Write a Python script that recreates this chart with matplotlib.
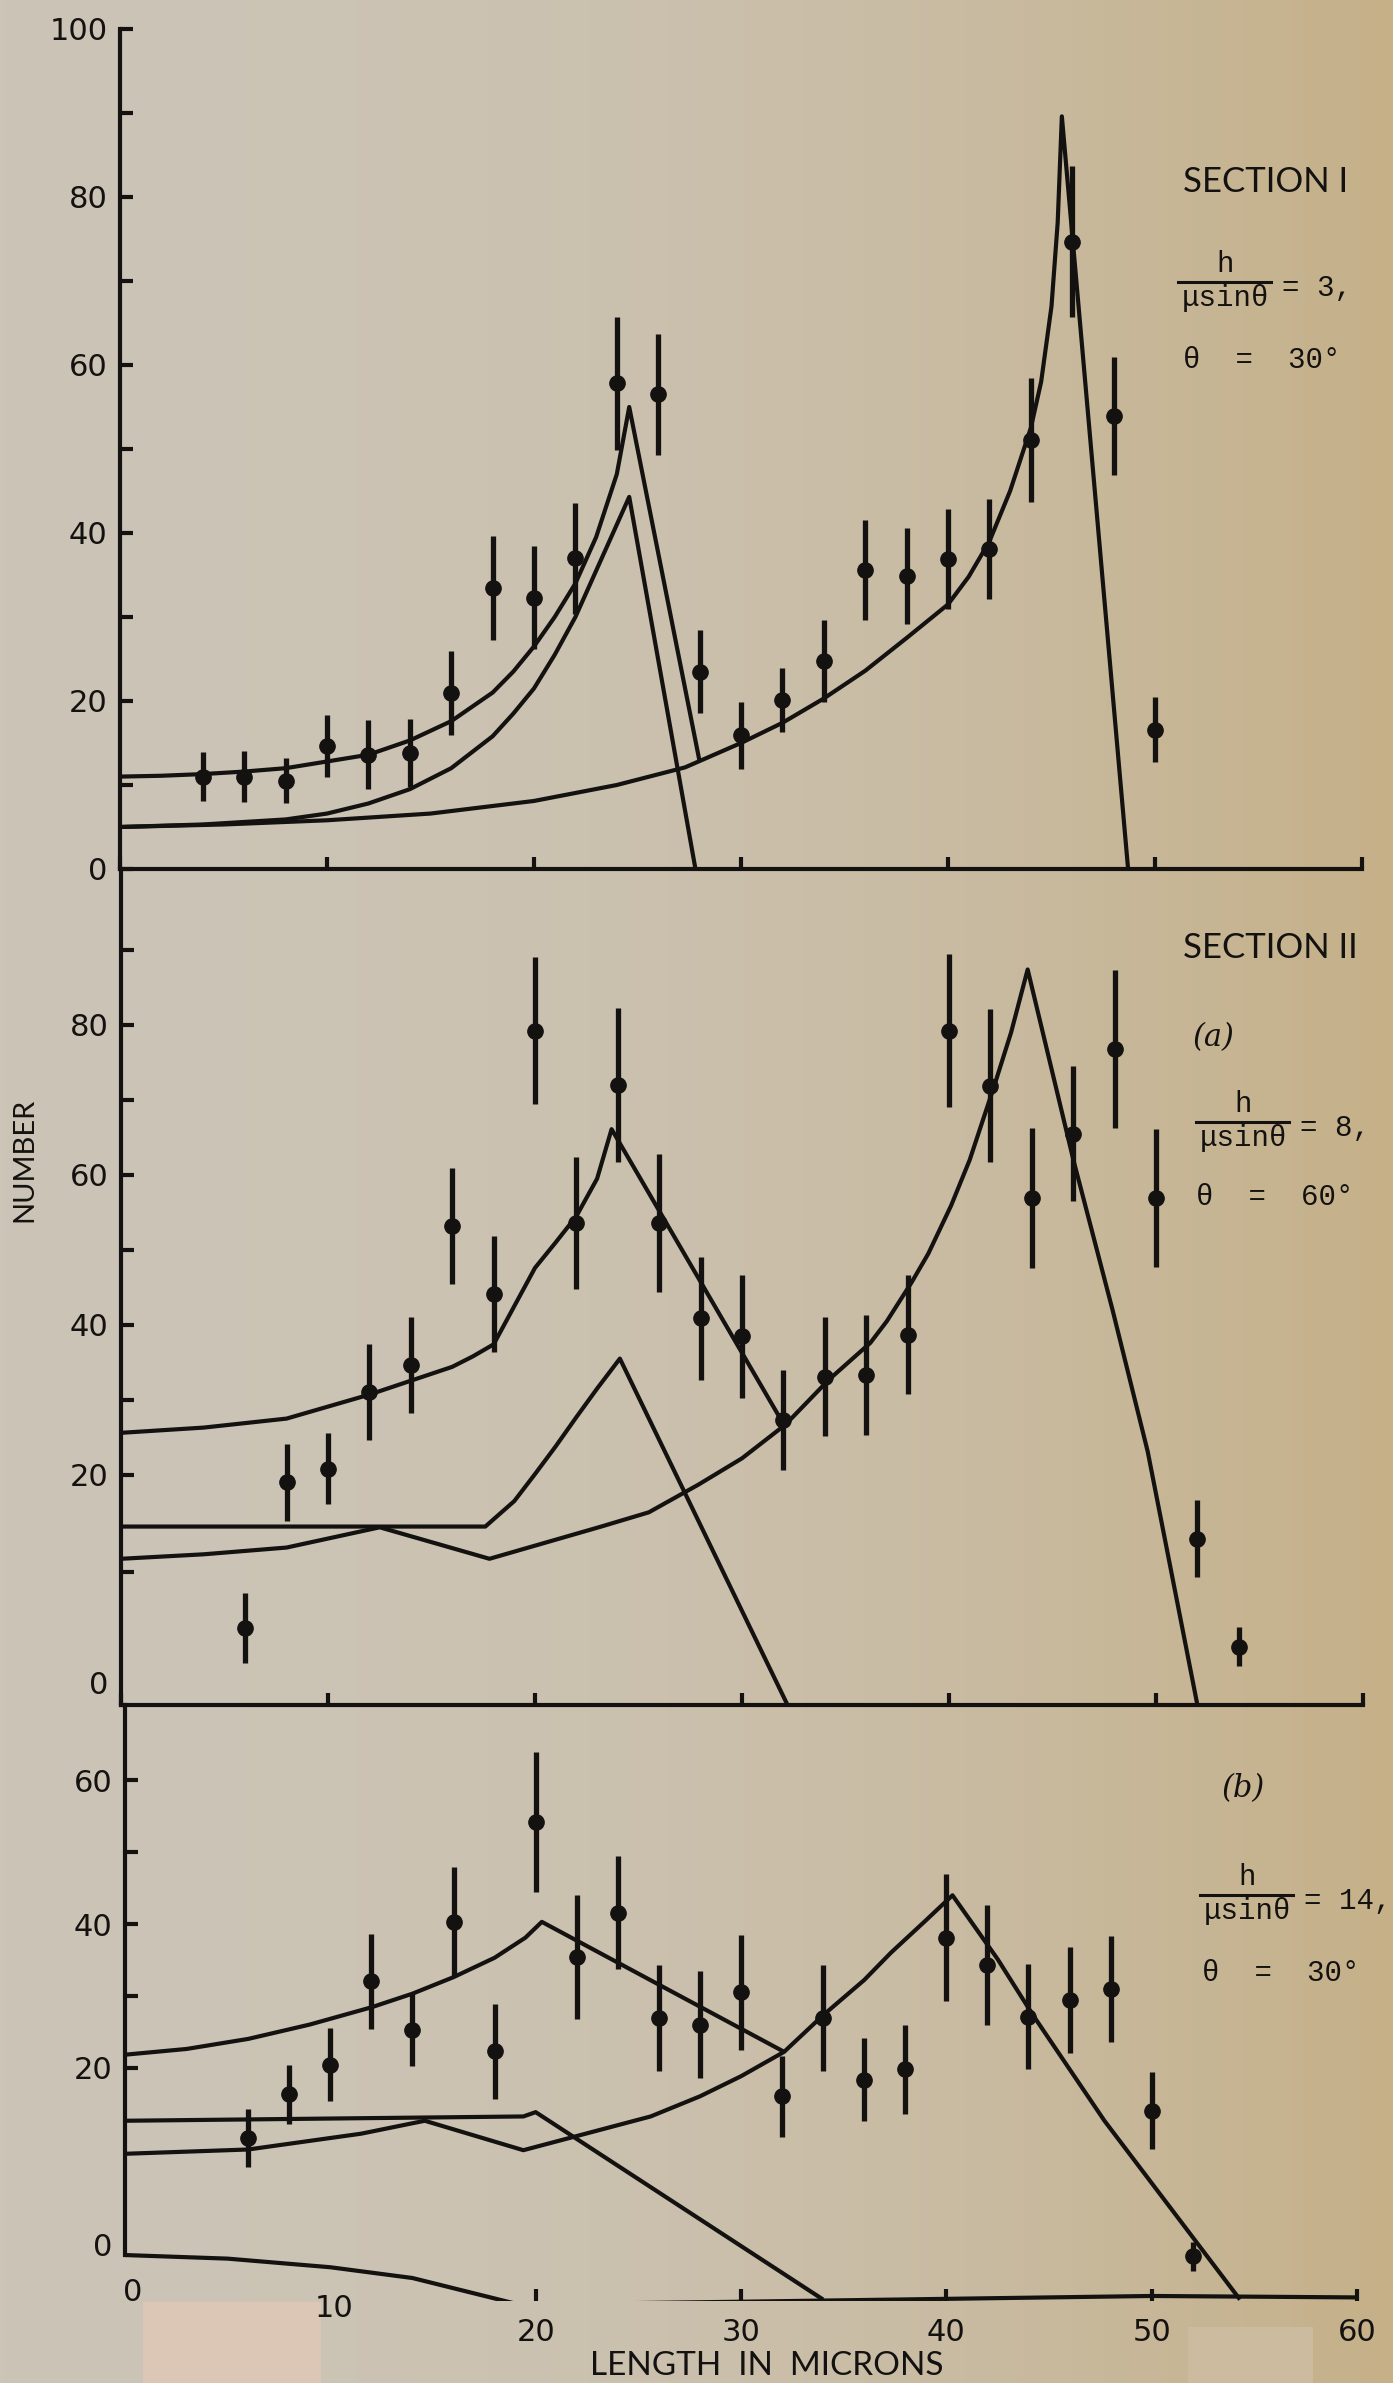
import numpy as np
import matplotlib.pyplot as plt
from matplotlib import transforms
from matplotlib.patches import Rectangle
from matplotlib.lines import Line2D

W, H = 1393, 2383
INK = '#141210'

plt.rcParams['font.family'] = ['DejaVu Sans']

# ---- Section I : h/(mu sin theta) = 3, theta = 30 deg
x1 = [4, 6, 8, 10, 12, 14, 16, 18, 20, 22, 24, 26, 28, 30, 32, 34, 36, 38, 40, 42, 44, 46, 48, 50]
y1 = [11, 11, 10.5, 14.6, 13.6, 13.8, 20.9, 33.5, 32.3, 37, 57.8, 56.5, 23.5, 15.9, 20.1, 24.8,
      35.6, 34.9, 36.9, 38.1, 51.1, 74.7, 53.9, 16.6]
e1 = [2.9, 3, 2.7, 3.7, 4.1, 4, 5, 6.2, 6.1, 6.6, 7.9, 7.2, 4.9, 4, 3.8, 4.9,
      6, 5.7, 5.9, 6, 7.4, 9, 7, 3.9]
a1_x = [0, 2, 4, 6, 8, 10, 12, 14, 16, 18, 19, 20, 21, 22, 23, 24, 24.6, 28]
a1_y = [11, 11.1, 11.3, 11.6, 12, 12.8, 13.6, 15.3, 17.6, 21, 23.5, 26.5, 30, 34, 39.5, 47, 55, 12.8]
b1_x = [0, 4, 8, 10, 12, 14, 16, 18, 19, 20, 21, 22, 23, 24, 24.6, 27.8]
b1_y = [5, 5.3, 5.9, 6.6, 7.8, 9.5, 12, 15.8, 18.5, 21.5, 25.5, 30, 35.5, 41, 44.3, 0]
c1_x = [0, 5, 10, 15, 20, 24, 27.3, 30, 32, 34, 36, 38, 40, 41, 42, 43, 44, 44.5, 45, 45.3,
        45.5, 48.7]
c1_y = [5, 5.3, 5.8, 6.6, 8.1, 10, 12.1, 15, 17.4, 20.3, 23.6, 27.5, 31.5, 34.8, 39, 45, 52.5,
        58, 67, 77, 89.6, 0]

# ---- Section II (a) : h/(mu sin theta) = 8, theta = 60 deg
x2 = [6, 8, 10, 12, 14, 16, 18, 20, 22, 24, 26, 28, 30, 32, 34, 36, 38, 40, 42, 44, 46, 48, 50, 52, 54]
y2 = [-0.4, 19, 20.8, 31, 34.7, 53.2, 44.1, 79.2, 53.6, 72, 53.6, 40.9, 38.5, 27.3, 33.1, 33.3,
      38.7, 79.2, 71.9, 56.9, 65.5, 76.8, 56.9, 11.5, -2.9]
e2 = [4.7, 5.1, 4.75, 6.4, 6.4, 7.7, 7.7, 9.8, 8.8, 10.3, 9.2, 8.2, 8.2, 6.7, 7.9, 8,
      7.9, 10.2, 10.2, 9.3, 9, 10.5, 9.2, 5.1, 2.6]
a2_x = [0, 4, 8, 12, 16, 17, 18, 19, 20, 21, 22, 23, 23.7, 32]
a2_y = [25.6, 26.3, 27.5, 30.7, 34.4, 35.8, 37.4, 42.5, 47.6, 51, 54.5, 59.5, 66.1, 26.8]
b2_x = [0, 17.6, 19, 20, 21, 22, 23, 24.1, 32.2]
b2_y = [13.1, 13.1, 16.5, 20.1, 23.8, 27.7, 31.5, 35.5, -10.7]
c2_x = [0, 4, 8, 12.5, 17.8, 23.2, 25.5, 27.9, 30, 32.1, 34.2, 36.2, 37, 38.2, 39, 40.1, 41,
        42.2, 43, 43.8, 46, 47.9, 49.6, 52]
c2_y = [8.8, 9.4, 10.3, 13, 8.8, 13.1, 15, 18.7, 22.2, 26.7, 32.7, 37.6, 40.5, 45.7, 49.5,
        55.9, 62, 72, 79, 87.4, 62.1, 42, 23.1, -10.7]

# ---- Section II (b) : h/(mu sin theta) = 14, theta = 30 deg
x3 = [6, 8, 10, 12, 14, 16, 18, 20, 22, 24, 26, 28, 30, 32, 34, 36, 38, 40, 42, 44, 46, 48, 50, 52]
y3 = [10.2, 16.3, 20.4, 32, 25.3, 40.3, 22.3, 54.2, 35.4, 41.6, 26.9, 26, 30.5, 16, 26.9, 18.3,
      19.8, 38.1, 34.3, 27.1, 29.4, 30.9, 14, -6.3]
e3 = [4, 4.1, 5.1, 6.6, 5.1, 7.7, 6.6, 9.8, 8.6, 7.9, 7.4, 7.4, 8, 5.6, 7.4, 5.8,
      6.2, 8.8, 8.4, 7.3, 7.4, 7.4, 5.4, 2]
a3_x = [0, 3, 6, 9, 12, 14, 16, 18, 19.5, 20.3, 32.1]
a3_y = [21.8, 22.6, 24, 26, 28.4, 30.3, 32.6, 35.3, 38.1, 40.3, 22.2]
b3_x = [0, 19.4, 20, 34]
b3_y = [12.6, 13.2, 13.8, -12.3]
c3_x = [0, 6, 11.5, 14.6, 19.4, 25.6, 28, 30, 32.1, 34, 36, 37.3, 39, 40.3, 42.5, 44.2, 47.7, 54.3]
c3_y = [8, 8.6, 10.8, 12.6, 8.5, 13.2, 16, 18.8, 22.2, 27.3, 32.2, 36, 40.5, 44, 35.1, 27.4,
        12.6, -12.3]
# hand-drawn (bent) length axis of the lowest panel
axis3_x = [0, 5, 10, 14, 19.2, 30, 40, 50, 60]
axis3_y = [-6.1, -6.6, -7.8, -9.3, -13.0, -12.6, -12.2, -11.8, -12.0]

xticks = [0, 10, 20, 30, 40, 50, 60]

fig = plt.figure(figsize=(W / 100, H / 100), dpi=100)


def P(x, y):
    return x / W, 1 - y / H


# paper background
bg = fig.add_axes([0, 0, 1, 1], zorder=-10)
t = np.linspace(0, 1, 300) ** 2.2
c0 = np.array([204, 196, 182]) / 255
c1 = np.array([197, 176, 136]) / 255
grad = (c0[None, :] * (1 - t[:, None]) + c1[None, :] * t[:, None])[None, :, :]
bg.imshow(grad, extent=[0, 1, 0, 1], aspect='auto')
bg.add_patch(Rectangle((143 / W, 0), 178 / W, 81 / H, color='#dcc7b6', lw=0))
bg.add_patch(Rectangle((1188 / W, 0), 125 / W, 56 / H, color='#cdbba0', lw=0))
bg.set_xlim(0, 1)
bg.set_ylim(0, 1)
bg.axis('off')


def panel(l, t, r, b, ylim):
    ax = fig.add_axes([l / W, 1 - b / H, (r - l) / W, (b - t) / H], facecolor='none')
    ax.set_xlim(0, 60)
    ax.set_ylim(*ylim)
    ax.spines[['top', 'right']].set_visible(False)
    for s in ax.spines.values():
        s.set_linewidth(3)
        s.set_color(INK)
    ax.tick_params(which='both', direction='in', length=9, width=3, colors=INK,
                   labelsize=22, pad=9)
    ax.set_xticks(xticks)
    return ax


def curves(ax, lines):
    for xs, ys in lines:
        ax.plot(xs, ys, color=INK, lw=3, solid_joinstyle='round', solid_capstyle='butt')


def points(ax, x, y, e):
    ax.errorbar(x, y, yerr=e, fmt='o', color=INK, ms=11, elinewidth=3.8, capsize=0)


def nudge(label, dx, dy):
    label.set_transform(label.get_transform()
                        + transforms.ScaledTranslation(dx / 100, dy / 100, fig.dpi_scale_trans))


# top panel
ax1 = panel(120, 29, 1362, 869, (0, 100))
curves(ax1, [(a1_x, a1_y), (b1_x, b1_y), (c1_x, c1_y)])
points(ax1, x1, y1, e1)
ax1.set_yticks([0, 20, 40, 60, 80, 100])
ax1.set_yticks([10, 30, 50, 70, 90], minor=True)
ax1.tick_params(axis='x', labelbottom=False)

# middle panel
ax2 = panel(121, 869, 1363, 1705, (-10.7, 100.8))
curves(ax2, [(a2_x, a2_y), (b2_x, b2_y), (c2_x, c2_y)])
points(ax2, x2, y2, e2)
ax2.set_yticks([-10.7, 20, 40, 60, 80], ['0', '20', '40', '60', '80'])
ax2.set_yticks([7, 30, 50, 70, 90], minor=True)
ax2.yaxis.get_major_ticks()[0].tick1line.set_visible(False)
nudge(ax2.get_yticklabels()[0], 0, 22)
ax2.tick_params(axis='x', labelbottom=False)

# bottom panel
ax3 = panel(125, 1705, 1357, 2301, (-12.5, 70.5))
curves(ax3, [(a3_x, a3_y), (b3_x, b3_y), (c3_x, c3_y), (axis3_x, axis3_y)])
points(ax3, x3, y3, e3)
ax3.spines['bottom'].set_visible(False)
ax3.spines['left'].set_bounds(-6.1, 70.5)
ax3.set_yticks([-4.7, 20, 40, 60], ['0', '20', '40', '60'])
ax3.set_yticks([30, 50], minor=True)
ax3.yaxis.get_major_ticks()[0].tick1line.set_visible(False)
ax3.tick_params(axis='x', pad=12)
xt = ax3.xaxis.get_major_ticks()
xt[0].tick1line.set_visible(False)
xt[1].tick1line.set_visible(False)
nudge(ax3.get_xticklabels()[0], 8, 40)
nudge(ax3.get_xticklabels()[1], 4, 24)

# axis titles
fig.text(*P(24, 1160), 'NUMBER', rotation=90, family='Lato', fontsize=21,
         ha='center', va='center', color=INK)
fig.text(*P(767, 2381), 'LENGTH  IN  MICRONS', family='Lato', fontsize=24,
         ha='center', va='bottom', color=INK)

# annotations
mono = dict(family='Liberation Mono', fontsize=21, color=INK)
sect = dict(family='Lato', fontsize=25, color=INK, va='center', ha='left')


def fraction(xl, ybar, rhs):
    fig.add_artist(Line2D([xl / W, (xl + 93) / W], [1 - ybar / H, 1 - ybar / H],
                          color=INK, lw=2.2))
    fig.text(*P(xl + 47, ybar - 4), 'h', ha='center', va='bottom', **mono)
    fig.text(*P(xl + 47, ybar + 2), 'μsinθ', ha='center', va='top', **mono)
    fig.text(*P(xl + 104, ybar + 6), rhs, ha='left', va='center', **mono)


fig.text(*P(1183, 182), 'SECTION I', **sect)
fraction(1178, 282, '= 3,')
fig.text(*P(1183, 360), 'θ  =  30°', va='center', **mono)

fig.text(*P(1183, 948), 'SECTION II', **sect)
fig.text(*P(1193, 1038), '(a)', family='DejaVu Serif', style='italic', fontsize=22,
         color=INK, va='center')
fraction(1196, 1122, '= 8,')
fig.text(*P(1196, 1197), 'θ  =  60°', va='center', **mono)

fig.text(*P(1222, 1789), '(b)', family='DejaVu Serif', style='italic', fontsize=22,
         color=INK, va='center')
fraction(1200, 1895, '= 14,')
fig.text(*P(1202, 1973), 'θ  =  30°', va='center', **mono)

fig.savefig('out.png', dpi=100)
